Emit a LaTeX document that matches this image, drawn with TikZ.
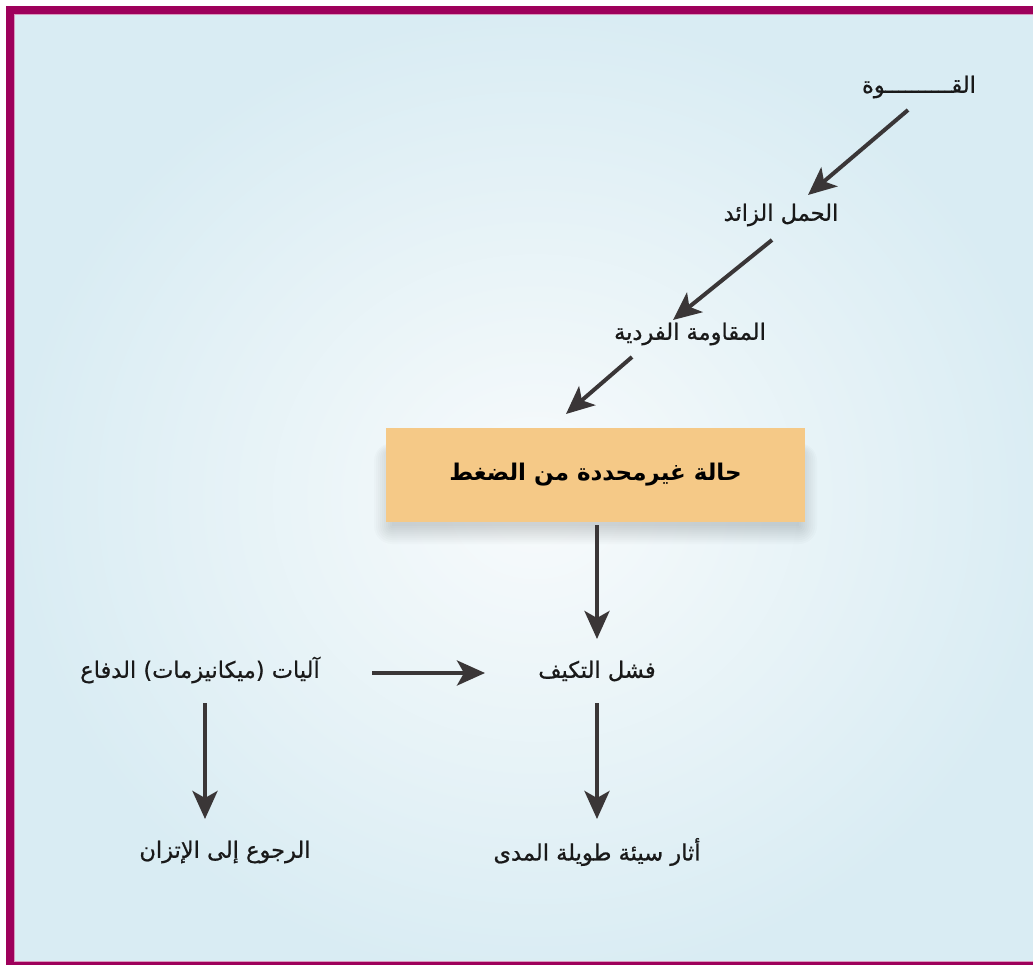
\documentclass[tikz,border=0pt]{standalone}
\usepackage{fontspec}
\setmainfont{DejaVu Sans}
\newfontfamily\arabicfont[Script=Arabic,FakeBold=0.8]{DejaVu Sans}
\newfontfamily\arabicbold[Script=Arabic]{DejaVu Sans Bold}
\TeXXeTstate=1
\usetikzlibrary{arrows.meta}
\definecolor{framec}{HTML}{9E005B}
\definecolor{bgout}{HTML}{D9ECF3}
\definecolor{bgin}{HTML}{F8FBFC}
\definecolor{boxc}{HTML}{F5C987}
\definecolor{arr}{HTML}{3A3637}
\begin{document}
\begin{tikzpicture}[x=1pt,y=-1pt,
  lbl/.style={font=\arabicfont\fontsize{22.5}{26}\selectfont, text=black!90, inner sep=2pt},
  conn/.style={draw=arr, line width=4pt, -{Stealth[length=28pt,width=25pt,inset=7pt]}},
  stressbox/.style={fill=boxc, minimum width=419pt, minimum height=94pt, inner sep=0pt,
     font=\arabicbold\fontsize{23}{27}\selectfont}]
\useasboundingbox (0,0) rectangle (1033,965);
\shade[inner color=bgin, outer color=bgout] (10,10) rectangle (1060,985);
\draw[framec, line width=8pt] (10,10) -- (1060,10) -- (1060,966) -- (10,966) -- cycle;
\draw[framec!40, line width=1pt] (14.5,14.5) -- (1040,14.5);
\draw[framec!40, line width=1pt] (14.5,14.5) -- (14.5,961.5) -- (1040,961.5);

% soft shadow under the box
\foreach \r in {0,2,...,18}{
  \fill[black, opacity=0.016, rounded corners=\r pt] (392-\r,452-\r/2) rectangle (799+\r,526+\r);
}

\node[lbl] (force) at (919,87) {\beginR القــــــــــوة\endR};
\node[lbl] (load) at (781,215) {\beginR الحمل الزائد\endR};
\node[lbl] (resist) at (690,334) {\beginR المقاومة الفردية\endR};
\node[stressbox] (stress) at (595.5,475) {\beginR حالة غيرمحددة من الضغط\endR};
\node[lbl] (fail) at (597,671) {\beginR فشل التكيف\endR};
\node[lbl] (defense) at (200,670) {\beginR آليات (ميكانيزمات) الدفاع\endR};
\node[lbl] (back) at (225,852) {\beginR الرجوع إلى الإتزان\endR};
\node[lbl] (bad) at (597,852) {\beginR أثار سيئة طويلة المدى\endR};

\coordinate (a1s) at (908,110); \coordinate (a1e) at (808,195);
\coordinate (a2s) at (772,240); \coordinate (a2e) at (673,320);
\coordinate (a3s) at (632,357); \coordinate (a3e) at (566,414);
\coordinate (fs) at (597,525); \coordinate (fe) at (597,639);
\coordinate (hs) at (372,673); \coordinate (he) at (485,673);
\coordinate (ls) at (205,703); \coordinate (le) at (205,819);
\coordinate (rs) at (597,703); \coordinate (re) at (597,819);
\draw[conn] (a1s) -- (a1e);
\draw[conn] (a2s) -- (a2e);
\draw[conn] (a3s) -- (a3e);
\draw[conn] (fs) -- (fe);
\draw[conn] (hs) -- (he);
\draw[conn] (ls) -- (le);
\draw[conn] (rs) -- (re);
\end{tikzpicture}
\end{document}
